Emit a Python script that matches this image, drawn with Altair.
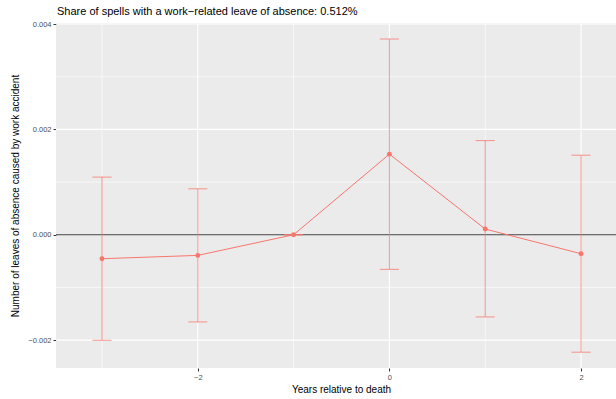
import altair as alt
import pandas as pd

# Event-time coefficients with 95% confidence bounds
years = [-3, -2, -1, 0, 1, 2]
estimate = [-0.000455, -0.000392, 0.0, 0.00153, 0.000108, -0.00036]
ci_low = [-0.002004, -0.001655, 0.0, -0.000658, -0.00156, -0.00223]
ci_high = [0.001094, 0.000872, 0.0, 0.003716, 0.001788, 0.00151]

x_major = [-2, 0, 2]
x_minor = [-3, -1, 1]
y_major = [-0.002, 0.0, 0.002, 0.004]
y_minor = [-0.001, 0.001, 0.003]

heading = ["Share of spells with a work\u2212related leave of absence: 0.512%"]

df = pd.DataFrame({"year": years, "est": estimate, "lo": ci_low, "hi": ci_high})

RED = "#F8766D"
XDOM = [-3.48, 2.365]
YDOM = [-0.00253, 0.00402]

xs = alt.Scale(domain=XDOM, nice=False, zero=False)
ys = alt.Scale(domain=YDOM, nice=False, zero=False)

x_axis = alt.Axis(values=x_major, format="d", title="Years relative to death",
                  titleX=285, titleAlign="center")
y_axis = alt.Axis(values=y_major, format=".3f",
                  title="Number of leaves of absence caused by work accident")

# Panel grid
vgrid_major = alt.Chart(pd.DataFrame({"v": x_major})).mark_rule(color="white", strokeWidth=1.1).encode(
    x=alt.X("v:Q", scale=xs, axis=x_axis))
vgrid_minor = alt.Chart(pd.DataFrame({"v": x_minor})).mark_rule(color="white", strokeWidth=0.6).encode(
    x=alt.X("v:Q", scale=xs))
hgrid_major = alt.Chart(pd.DataFrame({"v": y_major})).mark_rule(color="white", strokeWidth=1.1).encode(
    y=alt.Y("v:Q", scale=ys, axis=y_axis))
hgrid_minor = alt.Chart(pd.DataFrame({"v": y_minor})).mark_rule(color="white", strokeWidth=0.6).encode(
    y=alt.Y("v:Q", scale=ys))

zero = alt.Chart(pd.DataFrame({"v": [0.0]})).mark_rule(color="black", opacity=0.75, strokeWidth=1.1).encode(
    y=alt.Y("v:Q", scale=ys))

base = alt.Chart(df)

bars = base.mark_rule(color=RED, opacity=0.7, strokeWidth=1.1).encode(
    x=alt.X("year:Q", scale=xs), y=alt.Y("lo:Q", scale=ys), y2="hi:Q")

caps_src = base.transform_calculate(xl="datum.year - 0.1", xr="datum.year + 0.1")
cap_lo = caps_src.mark_rule(color=RED, opacity=0.7, strokeWidth=1.1).encode(
    x=alt.X("xl:Q", scale=xs), x2="xr:Q", y=alt.Y("lo:Q", scale=ys))
cap_hi = caps_src.mark_rule(color=RED, opacity=0.7, strokeWidth=1.1).encode(
    x=alt.X("xl:Q", scale=xs), x2="xr:Q", y=alt.Y("hi:Q", scale=ys))

line = base.mark_line(color=RED, strokeWidth=1).encode(
    x=alt.X("year:Q", scale=xs), y=alt.Y("est:Q", scale=ys))
points = base.mark_circle(color=RED, opacity=1, size=24).encode(
    x=alt.X("year:Q", scale=xs), y=alt.Y("est:Q", scale=ys))

# Plot heading, drawn above the panel
title_text = alt.Chart(pd.DataFrame({"t": heading})).mark_text(
    align="left", baseline="alphabetic", fontSize=11, font="Liberation Sans",
    color="black", clip=False
).encode(x=alt.value(1), y=alt.value(-8), text="t:N")

chart = alt.layer(
    vgrid_minor, hgrid_minor, vgrid_major, hgrid_major, zero,
    bars, cap_lo, cap_hi, line, points, title_text
).properties(
    width=560, height=345,
    background="white",
    autosize=alt.AutoSizeParams(type="none"),
    padding={"left": 56, "top": 23, "right": 0, "bottom": 31},
).configure_view(
    fill="#EBEBEB", stroke=None
).configure_axis(
    domain=False, grid=False, labelFont="Liberation Sans", titleFont="Liberation Sans",
    labelFontSize=7.5, labelColor="#4D4D4D", tickColor="#333333", tickSize=3,
    tickWidth=1, labelPadding=2, titleFontSize=10, titleFontWeight="normal",
    titleColor="black",
).configure_axisX(
    titlePadding=4,
).configure_axisY(
    titlePadding=7,
)

chart.save("out.html", embed_options={"renderer": "svg", "actions": False})
